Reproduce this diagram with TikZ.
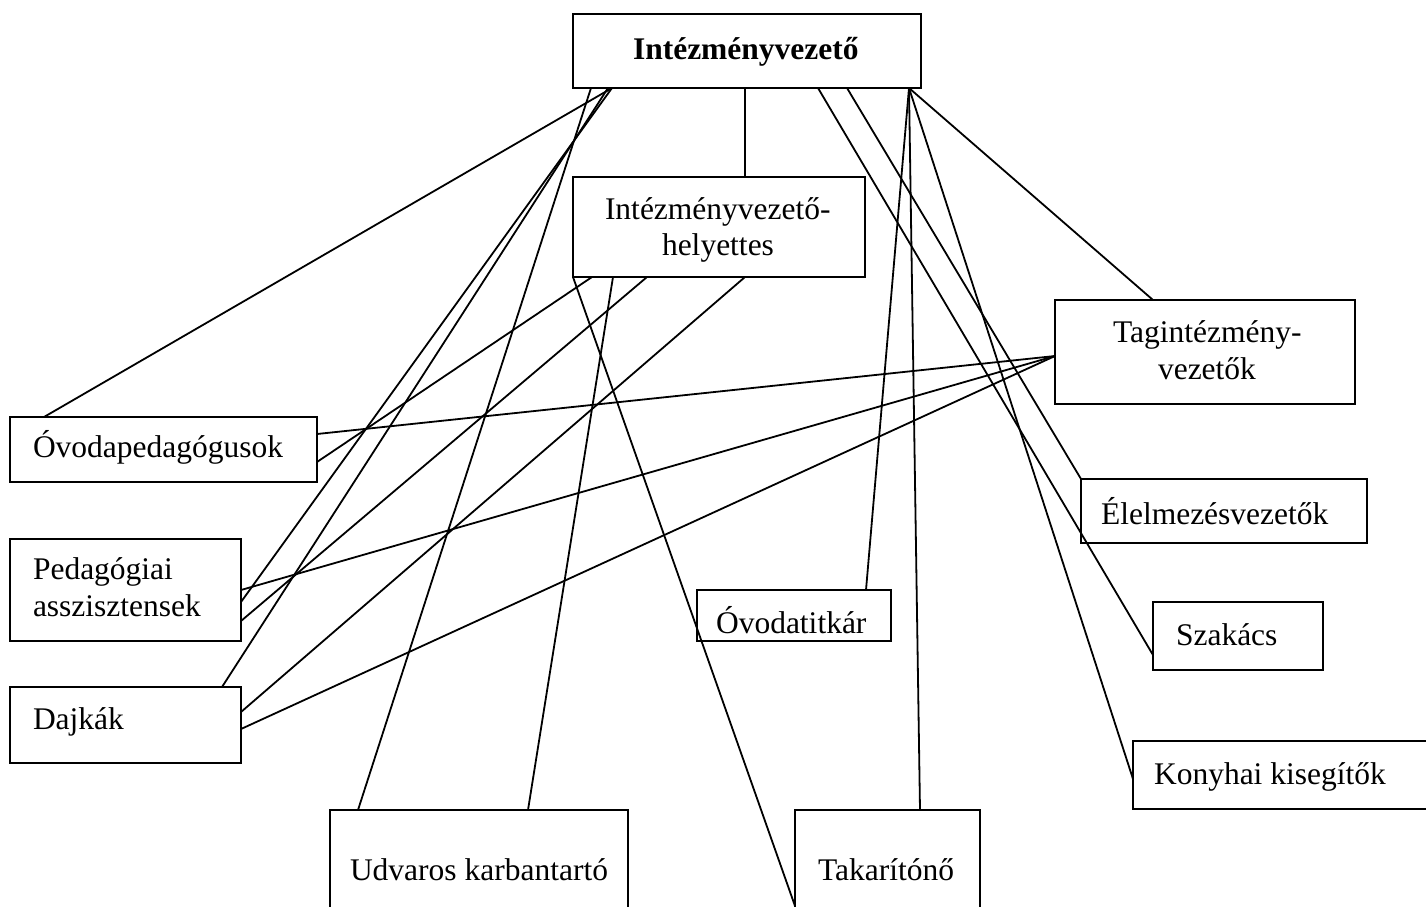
\documentclass[tikz,border=0pt]{standalone}
\usepackage{fontspec}
\setmainfont{Liberation Serif}
\begin{document}
\begin{tikzpicture}[x=1pt,y=-1pt,
  box/.style={draw, line width=1.9pt, rectangle, outer sep=0pt, inner sep=0pt},
  lbl/.style={inner sep=0pt, outer sep=0pt, anchor=base west, font=\fontsize{31.5}{36}\selectfont},
  conn/.style={line width=1.8pt}]
\useasboundingbox (0,0) rectangle (1426,906);
% boxes
\node[box, minimum width=348pt, minimum height=74pt]  (iv)  at (747,51) {};
\node[box, minimum width=292pt, minimum height=100pt] (ivh) at (719,227) {};
\node[box, minimum width=300pt, minimum height=104pt] (tag) at (1205,352) {};
\node[box, minimum width=307pt, minimum height=65pt]  (ovp) at (163.5,449.5) {};
\node[box, minimum width=231pt, minimum height=102pt] (ped) at (125.5,590) {};
\node[box, minimum width=231pt, minimum height=76pt]  (daj) at (125.5,725) {};
\node[box, minimum width=286pt, minimum height=64pt]  (ele) at (1224,511) {};
\node[box, minimum width=170pt, minimum height=68pt]  (sza) at (1238,636) {};
\node[box, minimum width=307pt, minimum height=68pt]  (kon) at (1286.5,775) {};
\node[box, minimum width=194pt, minimum height=51pt]  (ovt) at (794,615.5) {};
\node[box, minimum width=298pt, minimum height=130pt] (udv) at (479,875) {};
\node[box, minimum width=185pt, minimum height=130pt] (tak) at (887.5,875) {};
% texts
\node[lbl, font=\fontsize{31.5}{36}\selectfont\bfseries] (iv-t) at (633,59) {Intézményvezető};
\node[lbl] (ivh-t1) at (605,219) {Intézményvezető-};
\node[lbl] (ivh-t2) at (662,255) {helyettes};
\node[lbl] (tag-t1) at (1113,342) {Tagintézmény-};
\node[lbl] (tag-t2) at (1158,379) {vezetők};
\node[lbl] (ovp-t) at (33,457) {Óvodapedagógusok};
\node[lbl] (ped-t1) at (33,579) {Pedagógiai};
\node[lbl] (ped-t2) at (33,616) {asszisztensek};
\node[lbl] (daj-t) at (33,729) {Dajkák};
\node[lbl] (ele-t) at (1101,524) {Élelmezésvezetők};
\node[lbl] (sza-t) at (1176,645) {Szakács};
\node[lbl] (kon-t) at (1154,784) {Konyhai kisegítők};
\node[lbl] (ovt-t) at (716,633) {Óvodatitkár};
\node[lbl] (udv-t) at (350,880) {Udvaros karbantartó};
\node[lbl] (tak-t) at (818,880) {Takarítónő};
% connectors from Intezmenyvezeto
\draw[conn] ([xshift=39pt]iv.south west) -- ([xshift=34pt]ovp.north west);
\draw[conn] ([xshift=18pt]iv.south west) -- ([xshift=28pt]udv.north west);
\draw[conn] ([xshift=35pt]iv.south west) -- ([xshift=212pt]daj.north west);
\draw[conn] ([xshift=39pt]iv.south west) -- ([yshift=-63pt]ped.north east);
\draw[conn] ([xshift=172pt]iv.south west) -- ([xshift=172pt]ivh.north west);
\draw[conn] ([xshift=245pt]iv.south west) -- ([yshift=-53pt]sza.north west);
\draw[conn] ([xshift=274pt]iv.south west) -- (ele.north west);
\draw[conn] ([xshift=-12pt]iv.south east) -- ([xshift=98pt]tag.north west);
\draw[conn] ([xshift=-12pt]iv.south east) -- ([xshift=-25pt]ovt.north east);
\draw[conn] ([xshift=-12pt]iv.south east) -- ([xshift=125pt]tak.north west);
\draw[conn] ([xshift=-12pt]iv.south east) -- ([yshift=-38pt]kon.north west);
% connectors from helyettes
\draw[conn] (ivh.south west) -- ([yshift=-96pt]tak.north west);
\draw[conn] ([xshift=19pt]ivh.south west) -- ([yshift=-45pt]ovp.north east);
\draw[conn] ([xshift=40pt]ivh.south west) -- ([xshift=198pt]udv.north west);
\draw[conn] ([xshift=74pt]ivh.south west) -- ([yshift=-82pt]ped.north east);
\draw[conn] ([xshift=172pt]ivh.south west) -- ([yshift=-25pt]daj.north east);
% connectors from Tagintezmeny-vezetok
\draw[conn] ([yshift=-56pt]tag.north west) -- ([yshift=-17pt]ovp.north east);
\draw[conn] ([yshift=-56pt]tag.north west) -- ([yshift=-51pt]ped.north east);
\draw[conn] ([yshift=-56pt]tag.north west) -- ([yshift=-42pt]daj.north east);
\end{tikzpicture}
\end{document}
